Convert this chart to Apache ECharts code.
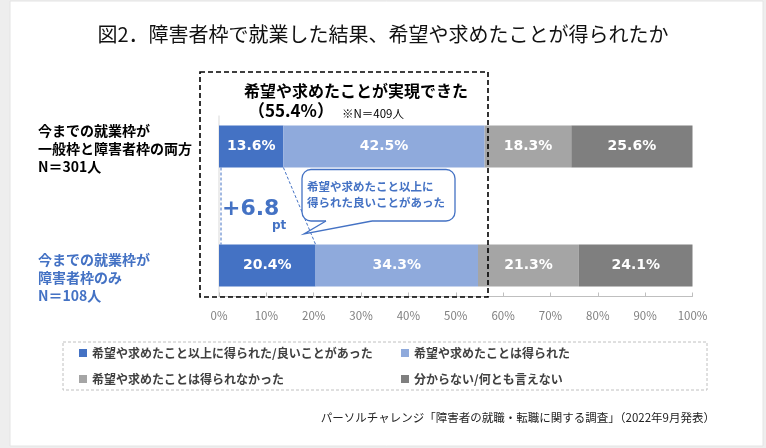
<!DOCTYPE html>
<html><head><meta charset="utf-8">
<script src="https://cdn.jsdelivr.net/npm/echarts@6/dist/echarts.min.js"></script>
<style>html,body{margin:0;padding:0;background:#eeeeee}#c{width:766px;height:448px}</style>
</head><body><div id="c"></div><script>
const titleText = '図2．障害者枠で就業した結果、希望や求めたことが得られたか';
const categories = ['今までの就業枠が\n一般枠と障害者枠の両方\nN＝301人', '今までの就業枠が\n障害者枠のみ\nN＝108人'];
const seriesNames = ['希望や求めたこと以上に得られた/良いことがあった', '希望や求めたことは得られた', '希望や求めたことは得られなかった', '分からない/何とも言えない'];
const exceeded = [13.6, 20.4];
const obtained = [42.5, 34.3];
const notObtained = [18.3, 21.3];
const unknown = [25.6, 24.1];
const colors = ['#4472C4', '#8FAADC', '#A5A5A5', '#7F7F7F'];
const overallRealized = '55.4%';
const overallN = '※N＝409人';
const sourceText = 'パーソルチャレンジ「障害者の就職・転職に関する調査」（2022年9月発表）';

const FF = "'Noto Sans CJK JP', 'Noto Sans', sans-serif";
const chart = echarts.init(document.getElementById('c'));
const values = [exceeded, obtained, notObtained, unknown];

const option = {
  backgroundColor: '#eeeeee',
  animation: false,
  title: {
    text: titleText, left: 'center', top: 19,
    textStyle: { fontFamily: FF, fontSize: 20, fontWeight: 'normal', color: '#111' }
  },
  grid: { left: 219, right: 73.5, top: 146.5, bottom: 182.5, containLabel: false },
  xAxis: {
    type: 'value', min: 0, max: 100, interval: 10, offset: 31,
    axisLine: { show: true, lineStyle: { color: '#bfbfbf' } },
    axisTick: { show: true, inside: true, length: 4, lineStyle: { color: '#bfbfbf' } },
    splitLine: { show: false },
    axisLabel: { formatter: '{value}%', color: '#808080', fontSize: 11.5, fontFamily: FF, margin: 13 }
  },
  yAxis: {
    type: 'category', data: categories, inverse: true, boundaryGap: false,
    axisLine: { show: false }, axisTick: { show: false },
    axisLabel: {
      align: 'left', margin: 181,
      formatter: function (v, i) {
        const st = i === 0 ? 't' : 'b';
        return '{g' + i + '| }\n' + v.split('\n').map(l => '{' + st + '|' + l + '}').join('\n');
      },
      rich: {
        t: { color: '#000', fontWeight: 'bold', fontSize: 14, lineHeight: 18, fontFamily: FF },
        b: { color: '#4472C4', fontWeight: 'bold', fontSize: 14, lineHeight: 18, fontFamily: FF },
        g0: { fontSize: 1, lineHeight: 5 },
        g1: { fontSize: 1, lineHeight: 25 }
      }
    }
  },
  legend: [
    { data: [seriesNames[0], seriesNames[2]], orient: 'vertical', left: 79, top: 346, padding: 0,
      itemWidth: 8, itemHeight: 8, itemGap: 12, icon: 'rect',
      textStyle: { fontFamily: FF, fontSize: 12, fontWeight: 'bold', color: '#404040', lineHeight: 14 } },
    { data: [seriesNames[1], seriesNames[3]], orient: 'vertical', left: 401, top: 346, padding: 0,
      itemWidth: 8, itemHeight: 8, itemGap: 12, icon: 'rect',
      textStyle: { fontFamily: FF, fontSize: 12, fontWeight: 'bold', color: '#404040', lineHeight: 14 } }
  ],
  series: seriesNames.map((n, k) => ({
    name: n, type: 'bar', stack: 'total', barWidth: 42, data: values[k],
    itemStyle: { color: colors[k] },
    label: { show: true, position: 'inside', color: '#fff', fontFamily: 'DejaVu Sans', fontWeight: 'bold', fontSize: 14,
      formatter: p => p.value.toFixed(1) + '%' }
  }))
};
chart.setOption(option);

const px = (v, c) => chart.convertToPixel({ gridIndex: 0 }, [v, c]);
const half = 21;
const a0 = px(0, 0), a1 = px(0, 1), e0 = px(exceeded[0], 0), e1 = px(exceeded[1], 1);
const axisY = a1[1] + 31;
const diff = (exceeded[1] - exceeded[0]).toFixed(1);
const blue = '#4472C4';
const L = 302, R = 455, T = 169.5, B = 221;

chart.setOption({
  graphic: [
    { type: 'rect', z: -10, silent: true, shape: { x: 10, y: 1, width: 753, height: 445 }, style: { fill: '#ffffff', stroke: '#e4e4e4', lineWidth: 1 } },
    { type: 'line', z: -1, shape: { x1: a0[0], y1: a0[1] - half - 10, x2: a0[0], y2: axisY }, style: { stroke: '#d9d9d9', lineWidth: 1 } },
    { type: 'rect', z: 5, shape: { x: 200, y: 72, width: 288, height: 225 }, style: { fill: null, stroke: '#000', lineWidth: 1.6, lineDash: [5, 3] } },
    { type: 'text', z: 6, style: { x: 356, y: 91, text: '希望や求めたことが実現できた', align: 'center', verticalAlign: 'middle', font: 'bold 16px ' + FF, fill: '#000' } },
    { type: 'text', z: 6, style: { x: 291, y: 111, text: '（' + overallRealized + '）', align: 'center', verticalAlign: 'middle', font: 'bold 17px ' + FF, fill: '#000' } },
    { type: 'text', z: 6, style: { x: 342, y: 114, text: overallN, align: 'left', verticalAlign: 'middle', font: '11.5px ' + FF, fill: '#000' } },
    { type: 'line', z: 4, shape: { x1: a0[0] + 2, y1: a0[1] + half, x2: a1[0] + 2, y2: a1[1] - half }, style: { stroke: blue, lineWidth: 1, lineDash: [3, 2] } },
    { type: 'line', z: 4, shape: { x1: e0[0], y1: e0[1] + half, x2: e1[0], y2: e1[1] - half }, style: { stroke: blue, lineWidth: 1, lineDash: [3, 2] } },
    { type: 'text', z: 6, style: { x: 222, y: 209, text: '+' + diff, align: 'left', verticalAlign: 'middle', font: 'bold 22px DejaVu Sans', fill: blue } },
    { type: 'text', z: 6, style: { x: 272, y: 226, text: 'pt', align: 'left', verticalAlign: 'middle', font: 'bold 12px DejaVu Sans', fill: blue } },
    { type: 'rect', z: 6, shape: { x: L, y: T, width: R - L, height: B - T, r: 9 }, style: { fill: '#fff', stroke: blue, lineWidth: 1.3 } },
    { type: 'polygon', z: 6.5, shape: { points: [[326, B - 1.2], [326, B + 0.5], [304, 234], [372, B + 0.5], [372, B - 1.2]] }, style: { fill: '#fff' } },
    { type: 'polyline', z: 6.6, shape: { points: [[326, B], [304, 234], [372, B]] }, style: { stroke: blue, lineWidth: 1.3, fill: null } },
    { type: 'text', z: 7, style: { x: 307, y: 187, text: '希望や求めたこと以上に', align: 'left', verticalAlign: 'middle', font: 'bold 11.5px ' + FF, fill: blue } },
    { type: 'text', z: 7, style: { x: 307, y: 203, text: '得られた良いことがあった', align: 'left', verticalAlign: 'middle', font: 'bold 11.5px ' + FF, fill: blue } },
    { type: 'rect', z: 1, shape: { x: 63, y: 342, width: 644, height: 48 }, style: { fill: null, stroke: '#c0c0c0', lineWidth: 1, lineDash: [3, 2] } },
    { type: 'text', z: 6, style: { x: 715, y: 418, text: sourceText, align: 'right', verticalAlign: 'middle', font: '11.5px ' + FF, fill: '#222' } }
  ]
});
</script></body></html>
